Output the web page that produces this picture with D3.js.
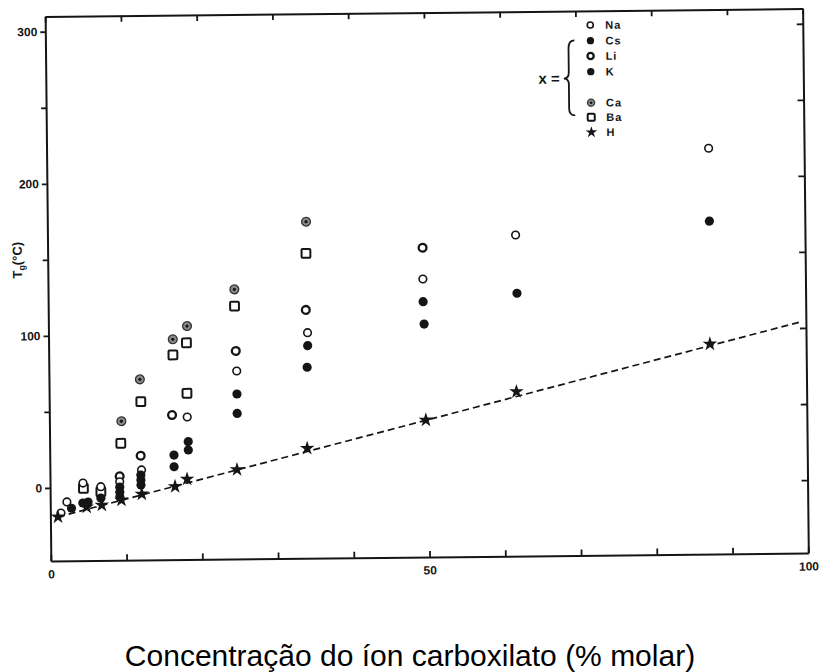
<!DOCTYPE html>
<html><head><meta charset="utf-8">
<script src="https://cdn.jsdelivr.net/npm/d3@7/dist/d3.min.js"></script>
<style>body{margin:0;background:#fff}svg{display:block}</style>
</head><body>
<svg id="chart" width="820" height="672"></svg>
<script>
// ---- data ----
const xTicks = [0,10,20,30,40,50,60,70,80,90,100];
const xTickLabels = [0,50,100];
const yTicks = [0,50,100,150,200,250,300];
const yTickLabels = [0,100,200,300];

const naX = [1.4, 2.2, 4.35, 6.7, 9.2, 12.1, 18.2, 24.8, 34.2, 49.5, 61.8, 87.4];
const naY = [-16.6, -9.3, 3.0, 0.5, 3.6, 11.2, 45.7, 75.6, 100.3, 134.8, 163.1, 218.8];
const liX = [9.2, 12.0, 16.2, 24.7, 34.0, 49.5];
const liY = [7.2, 20.6, 47.1, 88.8, 115.3, 155.4];
const csX = [2.8, 4.3, 6.7, 9.2, 9.2, 12.0, 12.0, 16.4, 18.3, 24.8, 34.1, 49.6];
const csY = [-13.5, -10.1, -7.0, -6.4, 0.1, 1.3, 7.9, 13.1, 24.0, 47.7, 77.6, 105.2];
const kX = [5.0, 9.2, 12.0, 16.4, 18.3, 24.8, 34.2, 49.5, 61.9, 87.4];
const kY = [-9.5, -3.2, 4.6, 20.8, 29.5, 60.5, 91.8, 119.9, 124.8, 170.9];
const caX = [9.5, 12.0, 16.4, 18.3, 24.6, 34.15];
const caY = [43.4, 70.8, 96.9, 105.5, 129.3, 173.3];
const baX = [4.4, 6.7, 9.4, 12.1, 16.4, 18.2, 18.2, 24.6, 34.1];
const baY = [-0.5, -2.8, 28.9, 56.1, 86.6, 94.5, 61.3, 118.3, 152.5];
const hX = [1.0, 4.8, 6.8, 9.4, 12.1, 16.5, 18.1, 24.7, 34.0, 49.7, 61.7, 87.3];
const hY = [-19.1, -12.8, -11.6, -8.4, -4.6, 0.1, 4.9, 10.8, 24.3, 42.1, 60.1, 90.1];
const hLineX = [1.0, 99.2];
const hLineY = [-19.1, 103.9];

const legendLabels = ["Na","Cs","Li","K","Ca","Ba","H"];
const legendKinds  = ["na","cs","li","k","ca","ba","h"];
const xTitle = "Concentração do íon carboxilato (% molar)";

// ---- drawing ----
const svg = d3.select("#chart");
const ink = "#151515";
const x = d3.scaleLinear().domain([0,100]).range([48,805.5]);
const y = d3.scaleLinear().domain([-48,310]).range([557,12.5]);

// the scanned figure is slightly tilted
const g = svg.append("g").attr("transform","rotate(-0.6,428,287)");

function styleAxis(sel){
  sel.selectAll(".domain").attr("stroke",ink).attr("stroke-width",2);
  sel.selectAll(".tick line").attr("stroke",ink).attr("stroke-width",1.8);
  sel.selectAll(".tick text").attr("fill",ink)
     .attr("font-family","Liberation Sans, Arial, sans-serif")
     .attr("font-weight","bold").attr("font-size",12);
}

g.append("g").attr("transform",`translate(${x(0)},0)`)
  .call(d3.axisLeft(y).tickValues(yTicks).tickSize(5).tickSizeOuter(0).tickPadding(3)
    .tickFormat(d => yTickLabels.includes(d) ? String(d) : ""))
  .call(styleAxis);
g.append("g").attr("transform",`translate(${x(100)},0)`)
  .call(d3.axisRight(y).tickValues(yTicks).tickSize(-6).tickSizeOuter(0).tickFormat(""))
  .call(styleAxis);
g.append("g").attr("transform",`translate(0,${y(-48)})`)
  .call(d3.axisBottom(x).tickValues(xTicks).tickSize(-6).tickSizeOuter(0).tickPadding(9)
    .tickFormat(d => xTickLabels.includes(d) ? String(d) : ""))
  .call(styleAxis);
g.append("g").attr("transform",`translate(0,${y(310)})`)
  .call(d3.axisTop(x).tickValues(xTicks).tickSize(-6).tickSizeOuter(0).tickFormat(""))
  .call(styleAxis);

// dashed line for H
g.append("path")
  .datum(hLineX.map((v,i)=>[v,hLineY[i]]))
  .attr("d", d3.line().x(d=>x(d[0])).y(d=>y(d[1])))
  .attr("fill","none").attr("stroke",ink).attr("stroke-width",1.7)
  .attr("stroke-dasharray","7,4");

function drawMarker(sel, kind, s){
  s = s || 1;
  if (kind==="na") {
    sel.append("circle").attr("r",3.8*s).attr("fill","#fff").attr("stroke",ink).attr("stroke-width",1.6);
  } else if (kind==="li") {
    sel.append("circle").attr("r",3.9*s).attr("fill","#fff").attr("stroke",ink).attr("stroke-width",2.3);
  } else if (kind==="cs" || kind==="k") {
    sel.append("circle").attr("r",4.6*s).attr("fill",ink);
  } else if (kind==="ca") {
    sel.append("circle").attr("r",4.4*s).attr("fill","#8a8a8a").attr("stroke","#333").attr("stroke-width",1.3);
    sel.append("circle").attr("r",1.6*s).attr("fill",ink);
  } else if (kind==="ba") {
    const h = 4.4*s;
    sel.append("rect").attr("x",-h).attr("y",-h).attr("width",2*h).attr("height",2*h).attr("rx",1)
      .attr("fill","#fff").attr("stroke",ink).attr("stroke-width",2);
  } else if (kind==="h") {
    sel.append("path").attr("d", d3.symbol().type(d3.symbolStar).size(66*s*s)()).attr("fill",ink);
  }
}

const series = [
  {kind:"ca", xs:caX, ys:caY},
  {kind:"ba", xs:baX, ys:baY},
  {kind:"li", xs:liX, ys:liY},
  {kind:"na", xs:naX, ys:naY},
  {kind:"k",  xs:kX,  ys:kY},
  {kind:"cs", xs:csX, ys:csY},
  {kind:"h",  xs:hX,  ys:hY}
];
series.forEach(sr => {
  g.append("g").selectAll("g").data(sr.xs.map((v,i)=>[v,sr.ys[i]])).join("g")
    .attr("transform", d => `translate(${x(d[0])},${y(d[1])})`)
    .each(function(){ drawMarker(d3.select(this), sr.kind); });
});

// legend
const legendRows = [26.7, 42.4, 57.7, 73.4, 104.4, 119, 134];
const lg = g.append("g");
legendLabels.forEach((lab,i) => {
  const row = lg.append("g").attr("transform",`translate(593,${legendRows[i]})`);
  drawMarker(row, legendKinds[i], 0.8);
  row.append("text").attr("x",15).attr("y",4).text(lab)
    .attr("font-family","Liberation Sans, Arial, sans-serif").attr("font-weight","bold")
    .attr("font-size",11).attr("letter-spacing",1).attr("fill",ink);
});
lg.append("text").attr("x",562).attr("y",85).attr("text-anchor","end").text("x =")
  .attr("font-family","Liberation Sans, Arial, sans-serif").attr("font-weight","bold")
  .attr("font-size",15).attr("fill",ink);
lg.append("path")
  .attr("d","M577,42 Q571,42 571,50 L571,74 Q571,80 566,80 Q571,80 571,86 L571,110 Q571,117 577,117")
  .attr("fill","none").attr("stroke",ink).attr("stroke-width",1.8);

// y-axis label
const yl = g.append("text").attr("transform","translate(22,256) rotate(-90)")
  .attr("text-anchor","middle").attr("font-family","Liberation Sans, Arial, sans-serif")
  .attr("font-weight","bold").attr("font-size",13).attr("fill",ink);
yl.append("tspan").text("T");
yl.append("tspan").attr("font-size",9).attr("dy",3).text("g");
yl.append("tspan").attr("dy",-3).text("(°C)");

// x title
svg.append("text").attr("x",410).attr("y",666).attr("text-anchor","middle")
  .attr("font-family","Liberation Sans, Arial, sans-serif").attr("font-size",30)
  .attr("fill","#000").text(xTitle);
</script>
</body></html>
